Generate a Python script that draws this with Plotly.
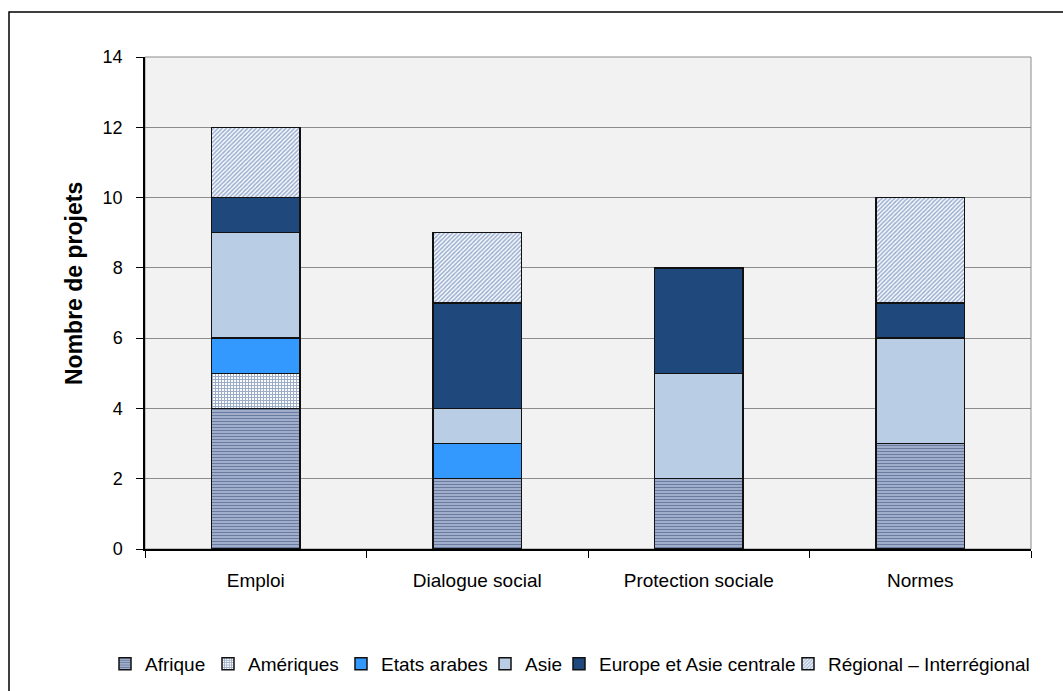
import plotly.graph_objects as go

categories = ["Emploi", "Dialogue social", "Protection sociale", "Normes"]

afrique = [4, 2, 2, 3]
ameriques = [1, 0, 0, 0]
etats_arabes = [1, 1, 0, 0]
asie = [3, 1, 3, 3]
europe_asie_centrale = [1, 3, 3, 1]
regional = [2, 2, 0, 3]

y_ticks = [0, 2, 4, 6, 8, 10, 12, 14]

# plot area pixel geometry: left 145, right 1031, top 57, bottom 549
L, R, T, B = 145, 1031, 57, 549
W, H = R - L, B - T


def px(x):
    return (x - L) / W


def py(y):
    return (B - y) / H


# (name, values, marker, x pixel where the legend text starts)
series = [
    ("Afrique", afrique,
     dict(color="#8c9cc0", pattern=dict(shape="-", fgcolor="#1f3864", bgcolor="#b3bfd9", size=3, solidity=0.5)), 145),
    ("Amériques", ameriques,
     dict(color="#ffffff", pattern=dict(shape="+", fgcolor="#3a5a90", bgcolor="#ffffff", size=3, solidity=0.6)), 248),
    ("Etats arabes", etats_arabes, dict(color="#3399ff"), 381),
    ("Asie", asie, dict(color="#b9cde5"), 525),
    ("Europe et Asie centrale", europe_asie_centrale, dict(color="#1f497d"), 599),
    ("Régional – Interrégional", regional,
     dict(color="#ffffff", pattern=dict(shape="/", fgcolor="#3d63a3", bgcolor="#ffffff", size=3, solidity=0.55)), 828),
]

fig = go.Figure()
legends = {}
for i, (name, vals, mk, text_x) in enumerate(series):
    key = "legend" if i == 0 else f"legend{i + 1}"
    fig.add_trace(go.Bar(
        x=categories, y=vals, name=name, legend=key,
        marker=dict(**mk, line=dict(color="#111111", width=1.5)),
    ))
    legends[key] = dict(
        orientation="h", x=px(text_x - 40), xanchor="left", y=py(664), yanchor="middle",
        font=dict(size=19), bgcolor="rgba(0,0,0,0)", borderwidth=0, itemwidth=30,
    )

fig.update_layout(
    width=1063, height=691,
    margin=dict(l=L, r=1063 - R, t=T, b=691 - B, autoexpand=False),
    barmode="stack", bargap=0.6,
    paper_bgcolor="#ffffff", plot_bgcolor="#f2f2f2",
    font=dict(family="Liberation Sans, Arial, sans-serif", color="#000000", size=19),
    showlegend=True,
    xaxis=dict(showline=True, linecolor="#000000", linewidth=1.5, ticks="outside",
               tickson="boundaries", ticklen=7, tickcolor="#000000",
               tickfont=dict(size=19), ticklabelstandoff=13, showgrid=False),
    yaxis=dict(range=[0, 14], tickvals=y_ticks, showline=True, linecolor="#000000",
               linewidth=1.5, ticks="outside", ticklen=7, tickcolor="#000000",
               tickfont=dict(size=18), ticklabelstandoff=10,
               showgrid=True, gridcolor="#8c8c8c", gridwidth=1, zeroline=False),
    annotations=[dict(text="<b>Nombre de projets</b>", textangle=-90, x=px(59), y=py(284),
                      xref="paper", yref="paper", showarrow=False, font=dict(size=23))],
    shapes=[
        dict(type="rect", xref="paper", yref="paper", x0=0, x1=1, y0=0, y1=1,
             line=dict(color="#8c8c8c", width=1), layer="below"),
        dict(type="rect", xref="paper", yref="paper", x0=px(9), x1=px(1075), y0=py(12), y1=py(705),
             line=dict(color="#000000", width=1.5)),
    ],
    **legends,
)

fig.write_html("out.html")
